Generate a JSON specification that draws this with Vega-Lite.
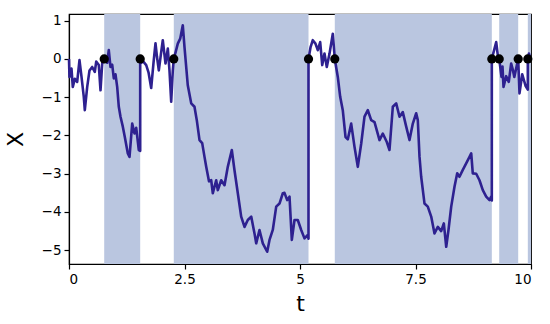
{
  "$schema": "https://vega.github.io/schema/vega-lite/v6.json",
  "width": 462,
  "height": 250,
  "autosize": {"type": "none"},
  "padding": {"left": 69, "top": 14, "right": 19, "bottom": 60},
  "config": {
    "font": "DejaVu Sans",
    "view": {"stroke": "#000000", "strokeWidth": 1.2},
    "axis": {"grid": false, "domainColor": "#000000", "domainWidth": 1.2, "tickColor": "#000000", "tickWidth": 1.2, "tickSize": 5, "labelColor": "#000000", "labelFontSize": 13.5, "labelFont": "DejaVu Sans", "titleFont": "DejaVu Sans", "titleFontSize": 22, "titleFontWeight": "normal", "titleColor": "#000000", "labelPadding": 3}
  },
  "datasets": {
    "shade": [
      {"a": 0.762, "b": 1.541},
      {"a": 2.268, "b": 5.184},
      {"a": 5.753, "b": 9.152},
      {"a": 9.312, "b": 9.723},
      {"a": 9.931, "b": 10}
    ],
    "dots": [
      {"t": 0.762}, {"t": 1.541}, {"t": 2.268}, {"t": 5.184}, {"t": 5.753},
      {"t": 9.152}, {"t": 9.312}, {"t": 9.723}, {"t": 9.931}
    ],
    "path": [
      {"i": 0, "t": 0, "x": 0},
      {"i": 1, "t": 0.01, "x": -0.47},
      {"i": 2, "t": 0.054, "x": -0.25},
      {"i": 3, "t": 0.082, "x": -0.73},
      {"i": 4, "t": 0.126, "x": -0.52},
      {"i": 5, "t": 0.177, "x": -0.6},
      {"i": 6, "t": 0.227, "x": -0.03},
      {"i": 7, "t": 0.271, "x": -0.47},
      {"i": 8, "t": 0.32, "x": -0.99},
      {"i": 9, "t": 0.342, "x": -1.34},
      {"i": 10, "t": 0.394, "x": -0.73},
      {"i": 11, "t": 0.444, "x": -0.3},
      {"i": 12, "t": 0.502, "x": -0.21},
      {"i": 13, "t": 0.558, "x": -0.34},
      {"i": 14, "t": 0.589, "x": -0.07},
      {"i": 15, "t": 0.645, "x": -0.16},
      {"i": 16, "t": 0.682, "x": -0.82},
      {"i": 17, "t": 0.719, "x": -0.12},
      {"i": 18, "t": 0.762, "x": 0},
      {"i": 19, "t": 0.775, "x": 0.05},
      {"i": 20, "t": 0.827, "x": -0.1},
      {"i": 21, "t": 0.861, "x": 0.23},
      {"i": 22, "t": 0.898, "x": -0.21},
      {"i": 23, "t": 0.935, "x": -0.15},
      {"i": 24, "t": 0.97, "x": -0.51},
      {"i": 25, "t": 1.006, "x": -0.4},
      {"i": 26, "t": 1.043, "x": -0.73},
      {"i": 27, "t": 1.078, "x": -1.25},
      {"i": 28, "t": 1.115, "x": -1.51},
      {"i": 29, "t": 1.165, "x": -1.77},
      {"i": 30, "t": 1.208, "x": -2.04},
      {"i": 31, "t": 1.273, "x": -2.47},
      {"i": 32, "t": 1.31, "x": -2.56},
      {"i": 33, "t": 1.368, "x": -1.69},
      {"i": 34, "t": 1.418, "x": -1.95},
      {"i": 35, "t": 1.455, "x": -1.8},
      {"i": 36, "t": 1.511, "x": -2.38},
      {"i": 37, "t": 1.541, "x": -2.4},
      {"i": 38, "t": 1.541, "x": 0},
      {"i": 39, "t": 1.569, "x": -0.1},
      {"i": 40, "t": 1.597, "x": -0.05},
      {"i": 41, "t": 1.671, "x": -0.16},
      {"i": 42, "t": 1.721, "x": -0.35},
      {"i": 43, "t": 1.779, "x": -0.76},
      {"i": 44, "t": 1.829, "x": -0.1},
      {"i": 45, "t": 1.872, "x": 0.41},
      {"i": 46, "t": 1.905, "x": 0.05},
      {"i": 47, "t": 1.944, "x": -0.3},
      {"i": 48, "t": 1.987, "x": 0.1},
      {"i": 49, "t": 2.03, "x": 0.49},
      {"i": 50, "t": 2.089, "x": -0.12},
      {"i": 51, "t": 2.139, "x": 0.27},
      {"i": 52, "t": 2.175, "x": -0.3},
      {"i": 53, "t": 2.212, "x": -1.12},
      {"i": 54, "t": 2.247, "x": -0.3},
      {"i": 55, "t": 2.268, "x": 0},
      {"i": 56, "t": 2.312, "x": 0.2},
      {"i": 57, "t": 2.355, "x": 0.4},
      {"i": 58, "t": 2.407, "x": 0.53},
      {"i": 59, "t": 2.463, "x": 0.88},
      {"i": 60, "t": 2.5, "x": 0.31},
      {"i": 61, "t": 2.571, "x": -0.69},
      {"i": 62, "t": 2.645, "x": -1.16},
      {"i": 63, "t": 2.716, "x": -1.25},
      {"i": 64, "t": 2.766, "x": -1.6},
      {"i": 65, "t": 2.825, "x": -2.12},
      {"i": 66, "t": 2.883, "x": -2.2},
      {"i": 67, "t": 2.933, "x": -2.56},
      {"i": 68, "t": 2.97, "x": -2.82},
      {"i": 69, "t": 3.03, "x": -3.2},
      {"i": 70, "t": 3.078, "x": -3.17},
      {"i": 71, "t": 3.113, "x": -3.51},
      {"i": 72, "t": 3.186, "x": -3.17},
      {"i": 73, "t": 3.221, "x": -3.43},
      {"i": 74, "t": 3.294, "x": -3.17},
      {"i": 75, "t": 3.366, "x": -3.3},
      {"i": 76, "t": 3.437, "x": -2.82},
      {"i": 77, "t": 3.524, "x": -2.38},
      {"i": 78, "t": 3.582, "x": -2.91},
      {"i": 79, "t": 3.654, "x": -3.51},
      {"i": 80, "t": 3.727, "x": -4.12},
      {"i": 81, "t": 3.799, "x": -4.39},
      {"i": 82, "t": 3.87, "x": -4.21},
      {"i": 83, "t": 3.944, "x": -4.12},
      {"i": 84, "t": 4.015, "x": -4.56},
      {"i": 85, "t": 4.052, "x": -4.82},
      {"i": 86, "t": 4.123, "x": -4.47},
      {"i": 87, "t": 4.195, "x": -4.82},
      {"i": 88, "t": 4.29, "x": -5.04},
      {"i": 89, "t": 4.34, "x": -4.73},
      {"i": 90, "t": 4.411, "x": -4.47},
      {"i": 91, "t": 4.485, "x": -3.86},
      {"i": 92, "t": 4.556, "x": -3.78},
      {"i": 93, "t": 4.628, "x": -3.51},
      {"i": 94, "t": 4.664, "x": -3.5},
      {"i": 95, "t": 4.723, "x": -3.69},
      {"i": 96, "t": 4.773, "x": -3.6},
      {"i": 97, "t": 4.823, "x": -4.73},
      {"i": 98, "t": 4.881, "x": -4.21},
      {"i": 99, "t": 4.952, "x": -4.21},
      {"i": 100, "t": 5.026, "x": -4.47},
      {"i": 101, "t": 5.097, "x": -4.69},
      {"i": 102, "t": 5.169, "x": -4.6},
      {"i": 103, "t": 5.184, "x": -4.7},
      {"i": 104, "t": 5.184, "x": 0},
      {"i": 105, "t": 5.227, "x": 0.3},
      {"i": 106, "t": 5.277, "x": 0.49},
      {"i": 107, "t": 5.335, "x": 0.4},
      {"i": 108, "t": 5.385, "x": 0.23},
      {"i": 109, "t": 5.437, "x": 0.44},
      {"i": 110, "t": 5.481, "x": -0.16},
      {"i": 111, "t": 5.53, "x": 0.14},
      {"i": 112, "t": 5.58, "x": -0.21},
      {"i": 113, "t": 5.639, "x": 0.14},
      {"i": 114, "t": 5.71, "x": 0.66},
      {"i": 115, "t": 5.753, "x": 0},
      {"i": 116, "t": 5.818, "x": -0.47},
      {"i": 117, "t": 5.87, "x": -0.99},
      {"i": 118, "t": 5.926, "x": -1.34},
      {"i": 119, "t": 5.985, "x": -2.04},
      {"i": 120, "t": 6.035, "x": -2.1},
      {"i": 121, "t": 6.108, "x": -1.69},
      {"i": 122, "t": 6.18, "x": -2.3},
      {"i": 123, "t": 6.251, "x": -2.82},
      {"i": 124, "t": 6.325, "x": -2.21},
      {"i": 125, "t": 6.396, "x": -1.51},
      {"i": 126, "t": 6.468, "x": -1.34},
      {"i": 127, "t": 6.541, "x": -1.6},
      {"i": 128, "t": 6.613, "x": -1.65},
      {"i": 129, "t": 6.721, "x": -2.12},
      {"i": 130, "t": 6.792, "x": -1.95},
      {"i": 131, "t": 6.879, "x": -2.17},
      {"i": 132, "t": 6.937, "x": -2.38},
      {"i": 133, "t": 7.009, "x": -1.25},
      {"i": 134, "t": 7.082, "x": -1.16},
      {"i": 135, "t": 7.154, "x": -1.51},
      {"i": 136, "t": 7.225, "x": -1.39},
      {"i": 137, "t": 7.299, "x": -1.77},
      {"i": 138, "t": 7.37, "x": -2.12},
      {"i": 139, "t": 7.442, "x": -1.69},
      {"i": 140, "t": 7.515, "x": -1.42},
      {"i": 141, "t": 7.55, "x": -1.6},
      {"i": 142, "t": 7.587, "x": -2.56},
      {"i": 143, "t": 7.623, "x": -3.08},
      {"i": 144, "t": 7.695, "x": -3.78},
      {"i": 145, "t": 7.766, "x": -3.86},
      {"i": 146, "t": 7.84, "x": -4.12},
      {"i": 147, "t": 7.911, "x": -4.56},
      {"i": 148, "t": 7.983, "x": -4.39},
      {"i": 149, "t": 8.056, "x": -4.5},
      {"i": 150, "t": 8.113, "x": -4.3},
      {"i": 151, "t": 8.165, "x": -4.91},
      {"i": 152, "t": 8.214, "x": -4.47},
      {"i": 153, "t": 8.273, "x": -3.86},
      {"i": 154, "t": 8.344, "x": -3.34},
      {"i": 155, "t": 8.403, "x": -2.99},
      {"i": 156, "t": 8.452, "x": -3.08},
      {"i": 157, "t": 8.524, "x": -2.9},
      {"i": 158, "t": 8.597, "x": -2.73},
      {"i": 159, "t": 8.669, "x": -2.56},
      {"i": 160, "t": 8.706, "x": -2.47},
      {"i": 161, "t": 8.74, "x": -2.99},
      {"i": 162, "t": 8.814, "x": -3.0},
      {"i": 163, "t": 8.885, "x": -3.17},
      {"i": 164, "t": 8.957, "x": -3.43},
      {"i": 165, "t": 9.03, "x": -3.6},
      {"i": 166, "t": 9.102, "x": -3.69},
      {"i": 167, "t": 9.139, "x": -3.6},
      {"i": 168, "t": 9.152, "x": -3.7},
      {"i": 169, "t": 9.152, "x": 0},
      {"i": 170, "t": 9.247, "x": 0.44},
      {"i": 171, "t": 9.281, "x": 0.1},
      {"i": 172, "t": 9.312, "x": 0},
      {"i": 173, "t": 9.361, "x": -0.47},
      {"i": 174, "t": 9.383, "x": -0.2},
      {"i": 175, "t": 9.405, "x": -0.73},
      {"i": 176, "t": 9.463, "x": -0.45},
      {"i": 177, "t": 9.519, "x": -0.6},
      {"i": 178, "t": 9.571, "x": -0.12},
      {"i": 179, "t": 9.61, "x": -0.3},
      {"i": 180, "t": 9.639, "x": -0.47},
      {"i": 181, "t": 9.723, "x": 0},
      {"i": 182, "t": 9.751, "x": -0.9},
      {"i": 183, "t": 9.81, "x": -0.4},
      {"i": 184, "t": 9.881, "x": -0.7},
      {"i": 185, "t": 9.931, "x": -0.8},
      {"i": 186, "t": 9.931, "x": 0},
      {"i": 187, "t": 9.955, "x": 0.14},
      {"i": 188, "t": 9.98, "x": 0.05}
    ]
  },
  "layer": [
    {
      "data": {"name": "shade"},
      "mark": {"type": "rect", "color": "#bac6e0"},
      "encoding": {
        "x": {"field": "a", "type": "quantitative", "scale": {"domain": [0, 10], "nice": false, "zero": false},
          "axis": {"values": [0, 2.5, 5, 7.5, 10], "labelExpr": "'' + datum.value", "title": "t", "titlePadding": 8}},
        "x2": {"field": "b"}
      }
    },
    {
      "data": {"name": "path"},
      "mark": {"type": "line", "color": "#2e2190", "strokeWidth": 2.6, "strokeJoin": "round"},
      "encoding": {
        "x": {"field": "t", "type": "quantitative"},
        "y": {"field": "x", "type": "quantitative", "scale": {"domain": [-5.36, 1.175], "nice": false, "zero": false},
          "axis": {"values": [-5, -4, -3, -2, -1, 0, 1], "title": "X", "titlePadding": 14}},
        "order": {"field": "i", "type": "quantitative"}
      }
    },
    {
      "mark": {"type": "rule", "color": "#000000", "strokeWidth": 2, "strokeDash": [7, 4]},
      "encoding": {"y": {"datum": 0, "type": "quantitative"}}
    },
    {
      "data": {"name": "dots"},
      "mark": {"type": "point", "filled": true, "color": "#000000", "opacity": 1, "size": 85},
      "encoding": {
        "x": {"field": "t", "type": "quantitative"},
        "y": {"datum": 0, "type": "quantitative"}
      }
    }
  ]
}
